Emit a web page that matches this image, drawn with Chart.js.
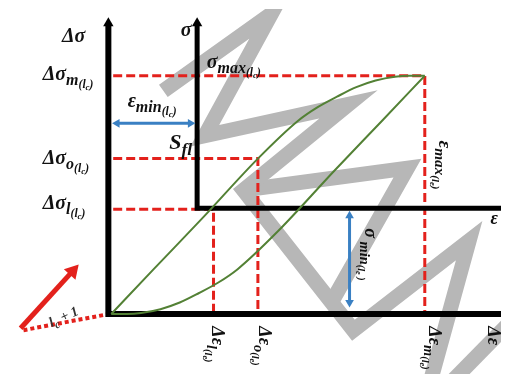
<!DOCTYPE html>
<html>
<head>
<meta charset="utf-8">
<script src="https://cdn.jsdelivr.net/npm/chart.js@4.4.1/dist/chart.umd.min.js"></script>
<style>
  body { margin: 0; background: #fff; }
  canvas { display: block; }
</style>
</head>
<body>
<canvas id="loop" width="510" height="383"></canvas>
<script>
// hysteresis loop, units: strain (x) / stress (y) from the Δσ-Δε origin
const upperEps = [0, 44, 94, 152, 194, 214, 234, 254, 274, 294, 309, 325]
const upperSig = [0, 47, 100, 163, 203, 217, 228, 238, 245, 249, 250, 250]
const lowerEps = [0, 16, 31, 51, 71, 91, 111, 131, 173, 231, 281, 325]
const lowerSig = [0, 0, 1, 5, 12, 22, 33, 47, 87, 150, 203, 250]

// levels m, o, l
const deltaSigma = [250, 163, 110]
const deltaEps = [325, 152, 106]

// shifted σ-ε axes
const sigmaAxisX = 89
const epsAxisY = 111
const axisTop = 303
const axisRight = 404

// amplitude arrows
const epsMinSpan = [1, 87]
const epsMinLevel = 200
const sigmaMinSpan = [7, 108]
const sigmaMinAt = 247

// next cycle arrow
const nextCycleArrow = [[-94, -15], [-40, 45]]
const nextCycleDots = [[-91, -17], [-2, 0]]

// watermark strokes
const markA = [[54, 234], [166, 315], [97, 187], [246, 220], [137, 130], [251, -17], [371, 77], [331, -70]]
const markB = [[137, 130], [307, 153], [227, 10]]
const markC = [[414, -8], [349, -75]]

const pts = (xs, ys) => xs.map((v, i) => ({ x: v, y: ys[i] }))
const pairs = (a) => a.map(p => ({ x: p[0], y: p[1] }))

const labels = [
  { at: [-51, 285], size: 20, rot: 0, parts: [["Δσ", 0]] },
  { at: [72, 292], size: 20, rot: 0, parts: [["σ", 0]] },
  { at: [-71, 245], size: 20, rot: 0, parts: [["Δσ", 0], ["m", 1], ["(l", 2], ["c", 3], [")", 2]] },
  { at: [17, 217], size: 20, rot: 0, parts: [["ε", 0], ["min", 1], ["(l", 2], ["c", 3], [")", 2]] },
  { at: [60, 173], size: 22, rot: 0, parts: [["S", 0], ["fl", 1]] },
  { at: [-71, 157], size: 20, rot: 0, parts: [["Δσ", 0], ["o", 1], ["(l", 2], ["c", 3], [")", 2]] },
  { at: [-71, 110], size: 20, rot: 0, parts: [["Δσ", 0], ["l", 1], ["(l", 2], ["c", 3], [")", 2]] },
  { at: [99, 258], size: 20, rot: 0, parts: [["σ", 0], ["max", 1], ["(l", 2], ["c", 3], [")", 2]] },
  { at: [340, 182], size: 19, rot: 90, parts: [["ε", 0], ["max", 1], ["(l", 2], ["e", 3], [")", 2]] },
  { at: [393, 94], size: 18, rot: 0, parts: [["ε", 0]] },
  { at: [263, 90], size: 18, rot: 90, parts: [["σ", 0], [" min", 1], ["(l", 2], ["e", 3], [" )", 2]] },
  { at: [104, -13], size: 18, rot: 90, parts: [["Δε", 0], ["l", 1], ["(l", 2], ["e", 3], [")", 2]] },
  { at: [153, -13], size: 18, rot: 90, parts: [["Δε", 0], ["o", 1], ["(l", 2], ["e", 3], [")", 2]] },
  { at: [329, -13], size: 18, rot: 90, parts: [["Δε", 0], ["m", 1], ["(l", 2], ["e", 3], [")", 2]] },
  { at: [391, -13], size: 18, rot: 90, parts: [["Δε", 0]] },
  { at: [-62, -14], size: 14, rot: -25, parts: [["l", 0], ["c", 1], [" + 1", 0]], color: "#333" },
]

const textPlugin = {
  id: "texts",
  afterDatasetsDraw(chart) {
    const { ctx, scales: { x, y } } = chart
    labels.forEach(l => {
      ctx.save()
      ctx.translate(x.getPixelForValue(l.at[0]), y.getPixelForValue(l.at[1]))
      ctx.rotate(l.rot * Math.PI / 180)
      ctx.fillStyle = l.color || "#111"
      ctx.textBaseline = "alphabetic"
      let cx = 0
      l.parts.forEach(([t, lvl]) => {
        const size = l.size * [1, 0.8, 0.58, 0.45][lvl]
        const dy = l.size * [0, 0.25, 0.38, 0.48][lvl]
        ctx.font = `italic bold ${size}px "Liberation Serif"`
        ctx.fillText(t, cx, dy)
        cx += ctx.measureText(t).width
      })
      ctx.restore()
    })
  }
}

const line = (data, color, width, extra) => Object.assign({
  data, borderColor: color, backgroundColor: color, borderWidth: width,
  showLine: true, pointRadius: 0, tension: 0, borderJoinStyle: "miter", fill: false
}, extra || {})

const head = (data, color, radius, rotation) => ({
  data, showLine: false, pointStyle: "triangle", pointRadius: radius,
  pointRotation: rotation, backgroundColor: color, borderColor: color, borderWidth: 0
})

const red = "#e3211c"
const blue = "#3a80c3"
const green = "#538135"
const black = "#000"
const gray = "#b7b7b7"

const dashed = deltaSigma.map((s, i) => line(
  [{ x: 2, y: s }, { x: deltaEps[i], y: s }, { x: deltaEps[i], y: 2 }],
  red, 3, { borderDash: [9, 4] }
))

const datasets = [
  // arrowheads on top
  head([{ x: -3, y: 305 }, { x: sigmaAxisX, y: 305 }], black, 6, 0),
  head([{ x: epsMinSpan[0] + 5, y: epsMinLevel }], blue, 5, -90),
  head([{ x: epsMinSpan[1] - 5, y: epsMinLevel }], blue, 5, 90),
  head([{ x: sigmaMinAt, y: sigmaMinSpan[1] - 5 }], blue, 5, 0),
  head([{ x: sigmaMinAt, y: sigmaMinSpan[0] + 5 }], blue, 5, 180),
  head([{ x: nextCycleArrow[1][0], y: nextCycleArrow[1][1] }], red, 9, 42),
  // loop
  line(pts(upperEps, upperSig), green, 2, { cubicInterpolationMode: "monotone" }),
  line(pts(lowerEps, lowerSig), green, 2, { cubicInterpolationMode: "monotone" }),
  // axes
  line([{ x: -3, y: axisTop }, { x: -3, y: 0 }, { x: axisRight, y: 0 }], black, 6),
  line([{ x: axisRight, y: epsAxisY }, { x: sigmaAxisX, y: epsAxisY }, { x: sigmaAxisX, y: axisTop }], black, 5),
  // amplitudes
  line([{ x: epsMinSpan[0] + 4, y: epsMinLevel }, { x: epsMinSpan[1] - 4, y: epsMinLevel }], blue, 3),
  line([{ x: sigmaMinAt, y: sigmaMinSpan[0] + 4 }, { x: sigmaMinAt, y: sigmaMinSpan[1] - 4 }], blue, 3),
  line(pairs(nextCycleArrow), red, 5),
  line(pairs(nextCycleDots), red, 4, { borderDash: [4, 3] }),
  ...dashed,
  // watermark at the bottom
  line(pairs(markA), gray, 15),
  line(pairs(markB), gray, 15),
  line(pairs(markC), gray, 15),
]

new Chart(document.getElementById("loop"), {
  type: "scatter",
  data: { datasets },
  options: {
    responsive: false,
    animation: false,
    events: [],
    layout: { padding: 0 },
    scales: {
      x: { type: "linear", min: -106, max: 404, display: false },
      y: { type: "linear", min: -63, max: 320, display: false },
    },
    plugins: { legend: { display: false }, tooltip: { enabled: false } },
  },
  plugins: [textPlugin],
})
</script>
</body>
</html>
